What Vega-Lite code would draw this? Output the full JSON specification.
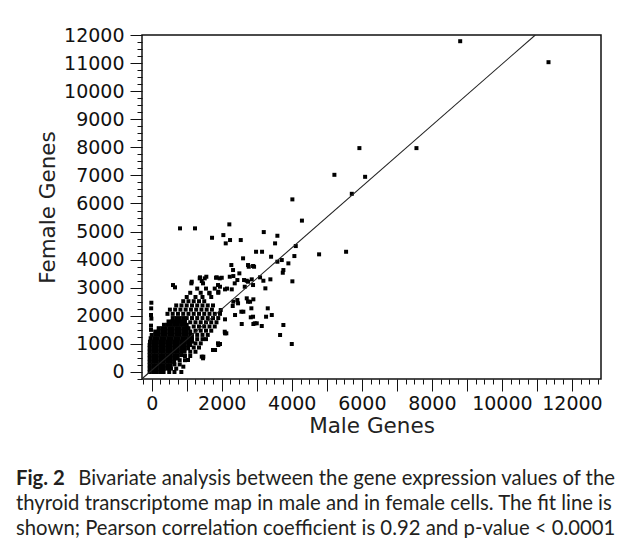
{
  "$schema": "https://vega.github.io/schema/vega-lite/v6.json",
  "width": 459,
  "height": 344,
  "autosize": {"type": "none"},
  "padding": {"left": 142, "top": 35, "right": 26, "bottom": 159},
  "background": "white",
  "config": {
    "view": {"stroke": "#111", "strokeWidth": 1.5},
    "axis": {
      "grid": false,
      "domain": false,
      "format": "d",
      "tickCount": 200,
      "labelOverlap": false,
      "labelFlush": false,
      "labelFont": "DejaVu Sans",
      "labelFontSize": 19,
      "labelColor": "#111",
      "titleFont": "DejaVu Sans",
      "titleFontSize": 21.5,
      "titleFontWeight": "normal",
      "titleColor": "#222",
      "tickColor": "#111",
      "tickWidth": 1,
      "tickSize": {"condition": {"test": "datum.value % 1000 === 0", "value": 12}, "value": 5}
    }
  },
  "datasets": {
    "genes": [
      {"m":-60,"f":0},{"m":40,"f":0},{"m":140,"f":0},{"m":240,"f":0},{"m":340,"f":0},{"m":500,"f":0},{"m":650,"f":0},
      {"m":-60,"f":120},{"m":40,"f":120},{"m":140,"f":120},{"m":240,"f":120},{"m":340,"f":120},{"m":440,"f":120},{"m":550,"f":120},{"m":700,"f":120},
      {"m":-60,"f":240},{"m":40,"f":240},{"m":140,"f":240},{"m":240,"f":240},{"m":340,"f":240},{"m":440,"f":240},{"m":540,"f":240},{"m":650,"f":270},{"m":800,"f":270},
      {"m":-60,"f":360},{"m":40,"f":360},{"m":140,"f":360},{"m":240,"f":360},{"m":340,"f":360},{"m":440,"f":360},{"m":540,"f":360},{"m":640,"f":360},{"m":800,"f":420},{"m":950,"f":420},
      {"m":-60,"f":480},{"m":40,"f":480},{"m":140,"f":480},{"m":240,"f":480},{"m":340,"f":480},{"m":440,"f":480},{"m":540,"f":480},{"m":640,"f":480},{"m":740,"f":480},
      {"m":-60,"f":600},{"m":40,"f":600},{"m":140,"f":600},{"m":240,"f":600},{"m":340,"f":600},{"m":440,"f":600},{"m":540,"f":600},{"m":640,"f":600},{"m":740,"f":600},{"m":840,"f":600},{"m":950,"f":570},{"m":1100,"f":570},
      {"m":-60,"f":720},{"m":40,"f":720},{"m":140,"f":720},{"m":240,"f":720},{"m":340,"f":720},{"m":440,"f":720},{"m":540,"f":720},{"m":640,"f":720},{"m":740,"f":720},{"m":840,"f":720},{"m":940,"f":720},{"m":1100,"f":720},{"m":1250,"f":720},
      {"m":-60,"f":840},{"m":40,"f":840},{"m":140,"f":840},{"m":240,"f":840},{"m":340,"f":840},{"m":440,"f":840},{"m":540,"f":840},{"m":640,"f":840},{"m":740,"f":840},{"m":840,"f":840},{"m":940,"f":840},{"m":1040,"f":840},{"m":1200,"f":870},{"m":1350,"f":870},
      {"m":-60,"f":960},{"m":40,"f":960},{"m":140,"f":960},{"m":240,"f":960},{"m":340,"f":960},{"m":440,"f":960},{"m":540,"f":960},{"m":640,"f":960},{"m":740,"f":960},{"m":840,"f":960},{"m":940,"f":960},{"m":1040,"f":960},{"m":1100,"f":960},
      {"m":-50,"f":1080},{"m":50,"f":1080},{"m":150,"f":1080},{"m":250,"f":1080},{"m":350,"f":1080},{"m":450,"f":1080},{"m":550,"f":1080},{"m":650,"f":1080},{"m":750,"f":1080},{"m":850,"f":1080},{"m":950,"f":1080},{"m":1050,"f":1080},{"m":1150,"f":1080},{"m":1250,"f":1020},{"m":1400,"f":1020},
      {"m":-30,"f":1200},{"m":70,"f":1200},{"m":170,"f":1200},{"m":270,"f":1200},{"m":370,"f":1200},{"m":470,"f":1200},{"m":570,"f":1200},{"m":670,"f":1200},{"m":770,"f":1200},{"m":870,"f":1200},{"m":970,"f":1200},{"m":1070,"f":1200},{"m":1150,"f":1200},{"m":1300,"f":1170},{"m":1450,"f":1170},{"m":1550,"f":1170},
      {"m":0,"f":1320},{"m":100,"f":1320},{"m":200,"f":1320},{"m":300,"f":1320},{"m":400,"f":1320},{"m":500,"f":1320},{"m":600,"f":1320},{"m":700,"f":1320},{"m":800,"f":1320},{"m":900,"f":1320},{"m":1000,"f":1320},{"m":1100,"f":1320},{"m":1150,"f":1320},{"m":1300,"f":1320},{"m":1450,"f":1320},{"m":1600,"f":1320},
      {"m":100,"f":1440},{"m":200,"f":1440},{"m":300,"f":1440},{"m":400,"f":1440},{"m":500,"f":1440},{"m":600,"f":1440},{"m":700,"f":1440},{"m":800,"f":1440},{"m":900,"f":1440},{"m":1000,"f":1440},{"m":1100,"f":1440},{"m":1250,"f":1470},{"m":1400,"f":1470},{"m":1550,"f":1470},{"m":1700,"f":1470},
      {"m":200,"f":1560},{"m":300,"f":1560},{"m":400,"f":1560},{"m":500,"f":1560},{"m":600,"f":1560},{"m":700,"f":1560},{"m":800,"f":1560},{"m":900,"f":1560},{"m":1000,"f":1560},{"m":1050,"f":1560},
      {"m":350,"f":1680},{"m":450,"f":1680},{"m":550,"f":1680},{"m":650,"f":1680},{"m":750,"f":1680},{"m":850,"f":1680},{"m":950,"f":1680},{"m":1000,"f":1680},{"m":1200,"f":1620},{"m":1350,"f":1620},{"m":1500,"f":1620},{"m":1650,"f":1620},{"m":1800,"f":1620},
      {"m":480,"f":1800},{"m":580,"f":1800},{"m":680,"f":1800},{"m":780,"f":1800},{"m":880,"f":1800},{"m":950,"f":1800},{"m":1100,"f":1770},{"m":1250,"f":1770},{"m":1400,"f":1770},{"m":1550,"f":1770},{"m":1700,"f":1770},{"m":1850,"f":1770},
      {"m":600,"f":1920},{"m":700,"f":1920},{"m":800,"f":1920},{"m":900,"f":1920},{"m":1000,"f":1920},{"m":1150,"f":1920},{"m":1300,"f":1920},{"m":1450,"f":1920},{"m":1600,"f":1920},{"m":1750,"f":1920},{"m":1900,"f":1920},
      {"m":450,"f":2070},{"m":600,"f":2070},{"m":750,"f":2070},{"m":900,"f":2070},{"m":1050,"f":2070},{"m":1200,"f":2070},{"m":1350,"f":2070},{"m":1500,"f":2070},{"m":1650,"f":2070},{"m":1800,"f":2070},{"m":1950,"f":2070},
      {"m":520,"f":2220},{"m":670,"f":2220},{"m":820,"f":2220},{"m":970,"f":2220},{"m":1120,"f":2220},{"m":1270,"f":2220},{"m":1420,"f":2220},{"m":1570,"f":2220},{"m":1720,"f":2220},
      {"m":700,"f":2370},{"m":850,"f":2370},{"m":1000,"f":2370},{"m":1150,"f":2370},{"m":1300,"f":2370},{"m":1450,"f":2370},{"m":1600,"f":2370},{"m":1750,"f":2370},
      {"m":900,"f":2520},{"m":1050,"f":2520},{"m":1200,"f":2520},{"m":1350,"f":2520},{"m":1500,"f":2520},
      {"m":1000,"f":2670},{"m":1250,"f":2670},{"m":1450,"f":2670},{"m":1700,"f":2670},
      {"m":1100,"f":2820},{"m":1400,"f":2820},{"m":1650,"f":2820},{"m":1900,"f":2820},
      {"m":1300,"f":2970},{"m":1550,"f":2970},{"m":1800,"f":2970},{"m":2150,"f":2970},
      {"m":-20,"f":1500},{"m":-20,"f":1650},{"m":-10,"f":1900},{"m":-20,"f":2030},{"m":-15,"f":2266},{"m":-10,"f":2466},
      {"m":609,"f":3096},{"m":1132,"f":3156},{"m":1371,"f":3334},{"m":1560,"f":3392},{"m":1466,"f":3156},{"m":1943,"f":3334},{"m":1894,"f":3096},{"m":2229,"f":3392},{"m":2371,"f":3156},{"m":2274,"f":3808},{"m":2323,"f":3630},{"m":2609,"f":4047},{"m":2751,"f":3808},{"m":2894,"f":3773},{"m":2657,"f":3036},{"m":2751,"f":3214},{"m":2894,"f":3096},{"m":2751,"f":2502},{"m":2846,"f":2267},{"m":2894,"f":1968},{"m":2943,"f":1733},{"m":2466,"f":2445},{"m":2560,"f":2146},{"m":2086,"f":1434},{"m":2131,"f":1377},{"m":1894,"f":1021},{"m":1751,"f":783},{"m":1466,"f":487},{"m":1037,"f":427},{"m":846,"f":0},
      {"m":2217,"f":5256},{"m":1723,"f":4779},{"m":2046,"f":4875},{"m":2114,"f":4580},{"m":2237,"f":4698},{"m":2543,"f":4698},{"m":3200,"f":4982},{"m":3589,"f":4851},{"m":3523,"f":4580},{"m":4290,"f":5390},{"m":2980,"f":4281},{"m":3151,"f":4281},{"m":4114,"f":4484},{"m":4780,"f":4189},{"m":5551,"f":4281},{"m":3409,"f":4104},{"m":2771,"f":3748},{"m":2923,"f":3748},{"m":3589,"f":3926},{"m":3714,"f":3986},{"m":3903,"f":3868},{"m":3760,"f":3630},{"m":3743,"f":3534},{"m":4017,"f":3228},{"m":4074,"f":4128},{"m":3389,"f":3299},{"m":3189,"f":3249},{"m":3094,"f":3370},{"m":3246,"f":2978},{"m":2857,"f":3299},{"m":2503,"f":3512},{"m":2446,"f":3274},{"m":2331,"f":3416},{"m":2714,"f":3249},{"m":2637,"f":3274},{"m":1837,"f":3356},{"m":2000,"f":3356},{"m":1514,"f":3334},{"m":1429,"f":3238},{"m":1951,"f":3036},{"m":2094,"f":2942},{"m":2286,"f":2942},{"m":1903,"f":2858},{"m":1646,"f":2800},{"m":2809,"f":2502},{"m":2903,"f":2587},{"m":2714,"f":2623},{"m":2331,"f":2502},{"m":2446,"f":2562},{"m":2314,"f":2349},{"m":3314,"f":2267},{"m":3266,"f":1968},{"m":3429,"f":2028},{"m":2617,"f":2146},{"m":2380,"f":2028},{"m":2829,"f":1947},{"m":2903,"f":1708},{"m":3143,"f":1637},{"m":3760,"f":1673},{"m":2571,"f":1708},{"m":2094,"f":1875},{"m":1971,"f":2206},
      {"m":809,"f":5114},{"m":1237,"f":5114},{"m":1380,"f":3370},{"m":1857,"f":3370},{"m":1143,"f":3214},{"m":666,"f":3014},{"m":1429,"f":545},{"m":903,"f":189},{"m":1903,"f":961},{"m":2094,"f":1377},{"m":3666,"f":1317},{"m":4000,"f":996},{"m":3000,"f":1733},{"m":1809,"f":783},{"m":1951,"f":996},{"m":1474,"f":545},
      {"m":8809,"f":11779},{"m":11331,"f":11032},{"m":5931,"f":7972},{"m":7560,"f":7972},{"m":5217,"f":7021},{"m":6094,"f":6950},{"m":5714,"f":6345},{"m":4017,"f":6146}
    ],
    "fit": [
      {"m": -260, "f": -223},
      {"m": 10954, "f": 12000}
    ]
  },
  "title": {
    "text": "Fig. 2",
    "subtitle": [
      "\u200b\u00a0\u00a0\u00a0\u00a0\u00a0\u00a0\u00a0\u00a0\u00a0\u00a0\u00a0\u00a0Bivariate analysis between the gene expression values of the",
      "thyroid transcriptome map in male and in female cells. The fit line is",
      "shown; Pearson correlation coefficient is 0.92 and p-value < 0.0001"
    ],
    "orient": "bottom",
    "anchor": "start",
    "frame": "group",
    "dx": -126,
    "offset": 32,
    "font": "Lato",
    "fontSize": 20.3,
    "fontWeight": "bold",
    "color": "#231f20",
    "subtitleFont": "Lato",
    "subtitleFontSize": 20.3,
    "subtitleColor": "#231f20",
    "subtitleLineHeight": 25,
    "subtitlePadding": -20.3
  },
  "layer": [
    {
      "data": {"name": "genes"},
      "mark": {"type": "square", "size": 16, "color": "#000", "opacity": 1, "clip": true},
      "encoding": {
        "x": {
          "field": "m",
          "type": "quantitative",
          "scale": {"domain": [-277, 12830], "nice": false, "zero": false},
          "axis": {
            "title": "Male Genes",
            "values": [-250,0,250,500,750,1000,1250,1500,1750,2000,2250,2500,2750,3000,3250,3500,3750,4000,4250,4500,4750,5000,5250,5500,5750,6000,6250,6500,6750,7000,7250,7500,7750,8000,8250,8500,8750,9000,9250,9500,9750,10000,10250,10500,10750,11000,11250,11500,11750,12000,12250,12500,12750],
            "labelExpr": "datum.value >= 0 && datum.value % 2000 === 0 ? datum.label : ''",
            "labelPadding": 3,
            "titlePadding": 2
          }
        },
        "y": {
          "field": "f",
          "type": "quantitative",
          "scale": {"domain": [-250, 12000], "nice": false, "zero": false},
          "axis": {
            "title": "Female Genes",
            "values": [-250,0,250,500,750,1000,1250,1500,1750,2000,2250,2500,2750,3000,3250,3500,3750,4000,4250,4500,4750,5000,5250,5500,5750,6000,6250,6500,6750,7000,7250,7500,7750,8000,8250,8500,8750,9000,9250,9500,9750,10000,10250,10500,10750,11000,11250,11500,11750,12000],
            "labelExpr": "datum.value >= 0 && datum.value % 1000 === 0 ? datum.label : ''",
            "labelPadding": 6,
            "titlePadding": 4
          }
        }
      }
    },
    {
      "data": {"name": "fit"},
      "mark": {"type": "line", "color": "#222", "strokeWidth": 1.1, "clip": true},
      "encoding": {
        "x": {"field": "m", "type": "quantitative"},
        "y": {"field": "f", "type": "quantitative"}
      }
    }
  ]
}
